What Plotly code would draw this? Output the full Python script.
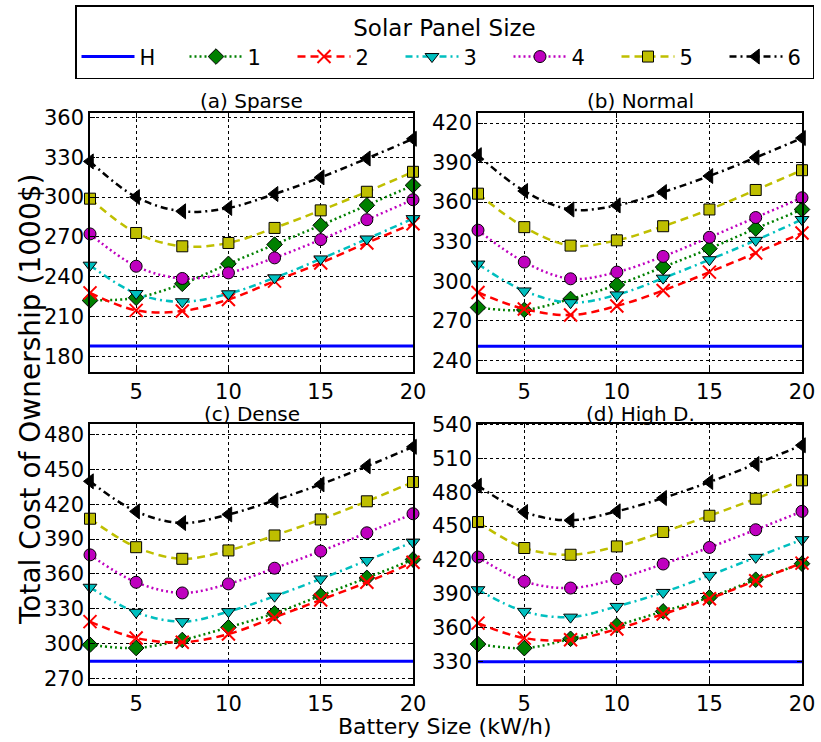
import plotly.graph_objects as go

battery = [2.5, 5, 7.5, 10, 12.5, 15, 17.5, 20]
x_ticks = [5, 10, 15, 20]

panel_titles = ["(a) Sparse", "(b) Normal", "(c) Dense", "(d) High D."]

# Horizontal reference (H) per panel
h_values = [188.0, 250.7, 284.7, 329.7]

# Series values per panel, for solar panel sizes 1..6
sparse_1 = [222.3, 224.3, 234.8, 249.8, 264.3, 278.8, 293.8, 308.8]
sparse_2 = [228.0, 214.8, 214.3, 223.0, 236.8, 250.5, 265.5, 280.0]
sparse_3 = [248.8, 227.5, 221.3, 227.3, 239.3, 253.5, 268.5, 283.8]
sparse_4 = [272.3, 248.0, 238.8, 243.0, 254.3, 268.0, 283.0, 298.0]
sparse_5 = [298.8, 273.0, 263.0, 265.5, 276.8, 290.0, 304.0, 319.0]
sparse_6 = [326.8, 300.0, 289.3, 291.8, 302.3, 314.8, 329.0, 343.8]

normal_1 = [280.0, 278.2, 286.5, 297.2, 310.7, 324.7, 339.9, 354.4]
normal_2 = [291.4, 278.9, 274.3, 281.2, 292.9, 306.9, 321.4, 336.6]
normal_3 = [313.0, 292.6, 283.7, 289.6, 302.3, 316.3, 331.0, 346.8]
normal_4 = [338.7, 314.5, 301.8, 306.9, 318.8, 333.3, 348.3, 363.3]
normal_5 = [366.4, 341.0, 327.0, 331.0, 341.7, 354.4, 369.2, 384.2]
normal_6 = [395.6, 368.4, 354.4, 357.5, 367.6, 379.8, 393.8, 408.6]

dense_1 = [299.0, 296.2, 303.1, 314.0, 326.1, 341.3, 356.6, 372.4]
dense_2 = [318.9, 304.8, 301.1, 308.2, 322.6, 337.6, 352.8, 370.1]
dense_3 = [348.5, 326.9, 318.9, 327.5, 340.8, 355.7, 371.5, 387.4]
dense_4 = [376.4, 352.8, 343.6, 351.4, 364.9, 379.6, 395.4, 411.8]
dense_5 = [407.5, 383.0, 373.0, 380.2, 393.1, 406.9, 422.5, 439.1]
dense_6 = [439.7, 413.8, 403.8, 411.2, 423.3, 437.1, 452.7, 469.4]

highd_1 = [345.4, 341.8, 350.1, 361.9, 374.4, 386.8, 402.5, 416.7]
highd_2 = [364.0, 350.7, 349.2, 358.7, 372.0, 385.6, 401.6, 417.2]
highd_3 = [393.6, 374.4, 369.3, 378.8, 391.2, 406.3, 422.3, 438.0]
highd_4 = [422.6, 401.0, 395.1, 403.3, 416.4, 431.1, 446.8, 463.1]
highd_5 = [453.6, 430.6, 424.6, 432.0, 444.8, 459.2, 474.3, 490.6]
highd_6 = [485.9, 462.5, 455.1, 463.1, 474.9, 489.1, 505.1, 521.7]

panels = [
    [sparse_1, sparse_2, sparse_3, sparse_4, sparse_5, sparse_6],
    [normal_1, normal_2, normal_3, normal_4, normal_5, normal_6],
    [dense_1, dense_2, dense_3, dense_4, dense_5, dense_6],
    [highd_1, highd_2, highd_3, highd_4, highd_5, highd_6],
]

series_names = ["1", "2", "3", "4", "5", "6"]

y_ranges = [[168.5, 363.2], [231.1, 427.6], [265.2, 489.5], [310.0, 541.0]]
y_ticks = [
    [180, 210, 240, 270, 300, 330, 360],
    [240, 270, 300, 330, 360, 390, 420],
    [270, 300, 330, 360, 390, 420, 450, 480],
    [330, 360, 390, 420, 450, 480, 510, 540],
]

styles = [
    dict(color="#008000", symbol="diamond", size=12, dash="2px,3px", edge="black"),
    dict(color="#ff0000", symbol="x-thin", size=13, dash="8px,5px", edge="#ff0000"),
    dict(color="#00bfbf", symbol="triangle-down", size=12, dash="7px,4px,2px,4px", edge="black"),
    dict(color="#bf00bf", symbol="circle", size=12, dash="2px,3px", edge="black"),
    dict(color="#bfbf00", symbol="square", size=11, dash="8px,5px", edge="black"),
    dict(color="#000000", symbol="triangle-left", size=13, dash="7px,4px,2px,4px", edge="black"),
]

# Layout geometry (paper fractions)
W, H = 821, 742
ml, mr, mt, mb = 90, 19, 113, 58
pw = W - ml - mr
ph = H - mt - mb
x_domains = [[0.0, (413 - ml) / pw], [(478 - ml) / pw, 1.0]]
y_domains = [[(684 - 372) / ph, 1.0], [0.0, (684 - 423.5) / ph]]

fig = go.Figure()

TICKFONT = dict(family="DejaVu Sans", size=21, color="black")

for p in range(4):
    row, col = divmod(p, 2)
    idx = "" if p == 0 else str(p + 1)
    xa = "x" + idx
    ya = "y" + idx
    fig.add_trace(go.Scatter(
        x=[battery[0], battery[-1]], y=[h_values[p], h_values[p]],
        mode="lines", line=dict(color="#0000ff", width=3),
        name="H", showlegend=(p == 0), legendrank=1,
        xaxis=xa, yaxis=ya))
    for s in range(6):
        st = styles[s]
        is_x = st["symbol"] == "x-thin"
        fig.add_trace(go.Scatter(
            x=battery, y=panels[p][s], mode="lines+markers",
            name=series_names[s], showlegend=(p == 0), legendrank=2 + s,
            legendwidth=(20 if s == 5 else None),
            line=dict(color=st["color"], width=2.5, dash=st["dash"], shape="spline", smoothing=1.0),
            marker=dict(symbol=st["symbol"], size=st["size"], color=st["color"],
                        line=dict(color=st["edge"], width=2 if is_x else 1)),
            cliponaxis=False,
            xaxis=xa, yaxis=ya))

    axcommon = dict(showline=True, linecolor="black", linewidth=1.5, mirror="ticks",
                    ticks="inside", ticklen=5, tickwidth=1, tickcolor="black",
                    showgrid=True, gridcolor="black", gridwidth=1, griddash="dot",
                    zeroline=False, tickfont=TICKFONT)
    fig.layout["xaxis" + idx] = dict(
        domain=x_domains[col], anchor=ya, range=[2.5, 20], tickvals=x_ticks,
        ticktext=[str(v) for v in x_ticks], **axcommon)
    fig.layout["yaxis" + idx] = dict(
        domain=y_domains[row], anchor=xa, range=y_ranges[p], tickvals=y_ticks[p],
        ticktext=[str(v) for v in y_ticks[p]], **axcommon)

    fig.add_annotation(
        text=panel_titles[p], xref="paper", yref="paper",
        x=sum(x_domains[col]) / 2, y=y_domains[row][1], xanchor="center", yanchor="bottom",
        showarrow=False, font=dict(family="DejaVu Sans", size=20, color="black"),
        yshift=(-2 if row == 0 else -4))

fig.add_annotation(
    text="Total Cost of Ownership (1000$)", xref="paper", yref="paper",
    x=(30 - ml) / pw, y=(684 - 400) / ph, xanchor="center", yanchor="middle",
    textangle=-90, showarrow=False, font=dict(family="DejaVu Sans", size=28, color="black"))

fig.add_annotation(
    text="Battery Size (kW/h)", xref="paper", yref="paper",
    x=(445 - ml) / pw, y=(684 - 726) / ph, xanchor="center", yanchor="middle",
    showarrow=False, font=dict(family="DejaVu Sans", size=22, color="black"))

fig.update_layout(
    width=W, height=H,
    margin=dict(l=ml, r=mr, t=mt, b=mb, autoexpand=False),
    paper_bgcolor="white", plot_bgcolor="white",
    font=dict(family="DejaVu Sans", color="black"),
    legend=dict(
        orientation="h", xref="paper", yref="paper",
        x=(75 - ml) / pw, xanchor="left",
        y=(684 - 5) / ph, yanchor="top",
        title=dict(text="Solar Panel Size", side="top center",
                   font=dict(family="DejaVu Sans", size=23, color="black")),
        font=dict(family="DejaVu Sans", size=21, color="black"),
        bordercolor="black", borderwidth=1.5, bgcolor="white",
        itemwidth=53, entrywidth=40, entrywidthmode="pixels",
        traceorder="normal",
    ),
)

fig.write_html("out.html")
